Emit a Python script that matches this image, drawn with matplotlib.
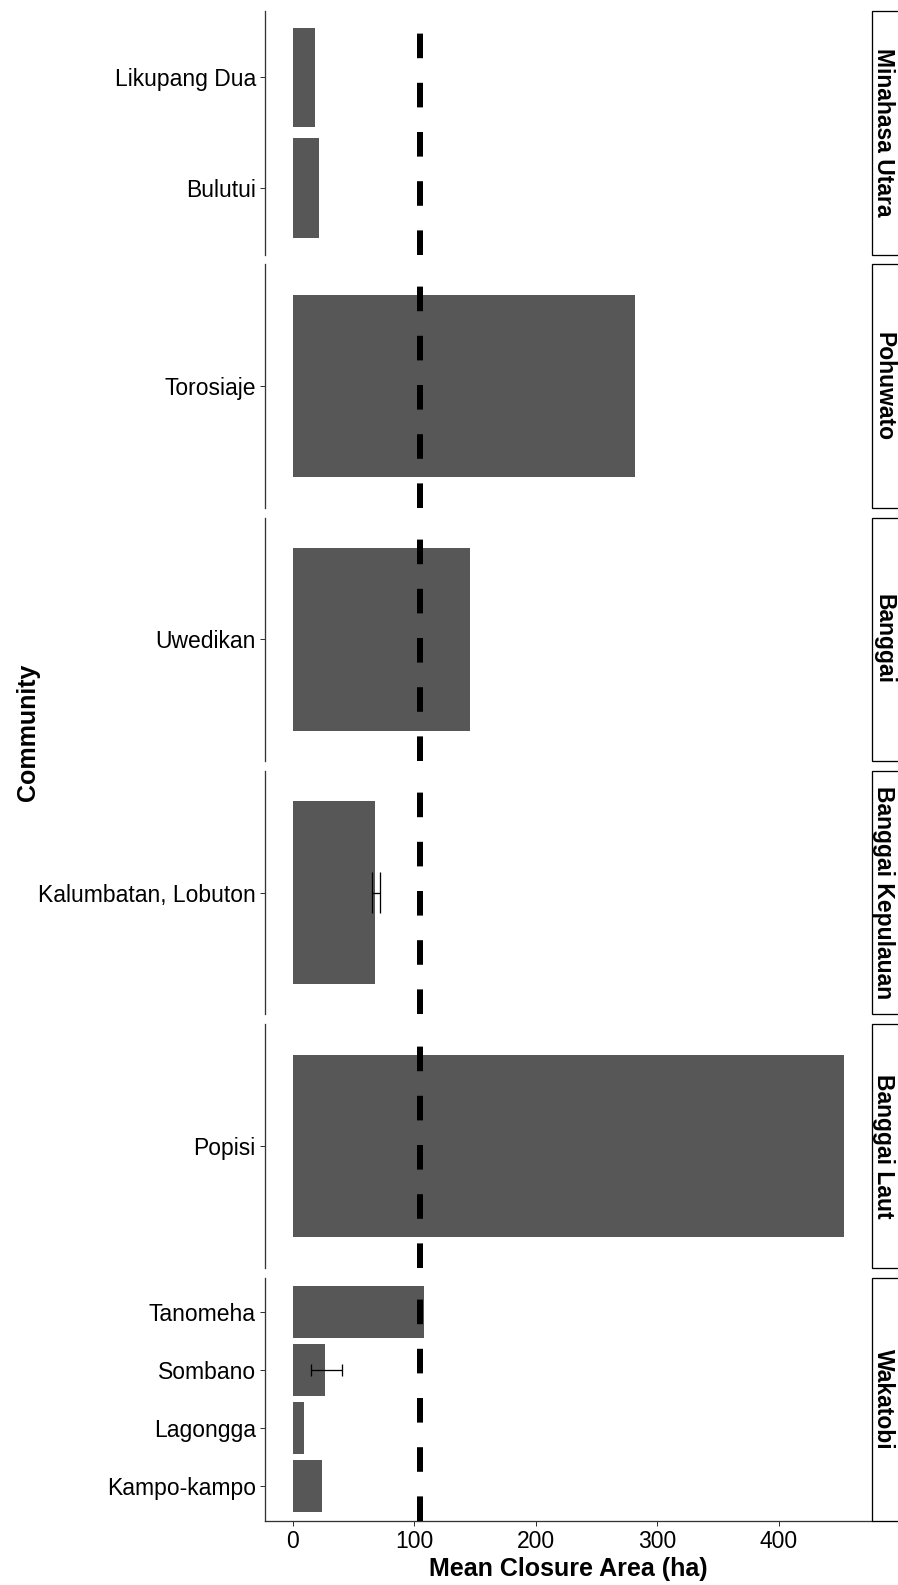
import matplotlib
matplotlib.use("Agg")
import matplotlib.pyplot as plt
from matplotlib.patches import Rectangle

plt.rcParams['font.family'] = ['Liberation Sans', 'DejaVu Sans']

# ---- data ----
regions = ["Minahasa Utara", "Pohuwato", "Banggai", "Banggai Kepulauan", "Banggai Laut", "Wakatobi"]
communities = [
    ["Likupang Dua", "Bulutui"],
    ["Torosiaje"],
    ["Uwedikan"],
    ["Kalumbatan, Lobuton"],
    ["Popisi"],
    ["Tanomeha", "Sombano", "Lagongga", "Kampo-kampo"],
]
mean_area = [
    [18.1, 21.4],
    [282.0],
    [146.0],
    [67.6],
    [453.6],
    [107.8, 26.4, 9.4, 24.5],
]
err_low = [
    [None, None],
    [None],
    [None],
    [65.5],
    [None],
    [None, 14.8, None, None],
]
err_high = [
    [None, None],
    [None],
    [None],
    [71.7],
    [None],
    [None, 40.4, None, None],
]
overall_mean = 105.0
x_ticks = [0, 100, 200, 300, 400]
x_label = "Mean Closure Area (ha)"
y_label = "Community"

# ---- layout (pixels) ----
W, H = 898, 1585
fig = plt.figure(figsize=(W / 100, H / 100), dpi=100)
left_px, right_px = 265.0, 871.7
top0, pitch, ph = 11.0, 253.3, 243.5
strip_w = 30.0

bar_color = "#575757"
spine_color = "#333333"
px = 0.72  # 1 px in points

for i, reg in enumerate(regions):
    top = top0 + i * pitch
    ax = fig.add_axes([left_px / W, 1 - (top + ph) / H, (right_px - left_px) / W, ph / H])
    names = communities[i]
    vals = mean_area[i]
    pos = list(range(len(names)))
    ax.barh(pos, vals, height=0.9, color=bar_color, zorder=2)
    for p, lo, hi in zip(pos, err_low[i], err_high[i]):
        if lo is not None:
            ax.hlines(p, lo, hi, color="black", lw=1.3 * px, zorder=3)
            ax.vlines([lo, hi], p - 0.1, p + 0.1, color="black", lw=1.3 * px, zorder=3)
    ax.axvline(overall_mean, color="black", lw=6 * px, dashes=(4.1, 4.1), zorder=4)
    ax.set_xlim(-22.7, 476.7)
    ax.set_ylim(len(names) - 1 + 0.6, -0.6)
    ax.set_yticks(pos)
    ax.set_yticklabels(names, fontsize=16.5, color="black")
    ax.tick_params(axis="y", length=5 * px, width=1.0 * px, color=spine_color, pad=3)
    for s in ["top", "right"]:
        ax.spines[s].set_visible(False)
    ax.spines["left"].set_color(spine_color)
    ax.spines["left"].set_linewidth(1.3 * px)
    if i == len(regions) - 1:
        ax.set_xticks(x_ticks)
        ax.set_xticklabels([str(t) for t in x_ticks], fontsize=16.5, color="black")
        ax.tick_params(axis="x", length=5 * px, width=1.0 * px, color=spine_color, pad=3)
        ax.spines["bottom"].set_color(spine_color)
        ax.spines["bottom"].set_linewidth(1.3 * px)
    else:
        ax.spines["bottom"].set_visible(False)
        ax.set_xticks([])
    # strip
    fig.patches.append(Rectangle((right_px / W, 1 - (top + ph) / H), strip_w / W, ph / H,
                                 transform=fig.transFigure, facecolor="white",
                                 edgecolor="black", lw=1.3 * px, zorder=5))
    fig.text((right_px + 12) / W, 1 - (top + ph / 2) / H, reg, rotation=-90,
             ha="center", va="center", fontsize=16.5, fontweight="bold", zorder=6)

fig.text(((left_px + right_px) / 2) / W, 1 - 1569 / H, x_label, ha="center", va="center",
         fontsize=18, fontweight="bold")
fig.text(28 / W, 1 - 732 / H, y_label, rotation=90, ha="center", va="center",
         fontsize=18, fontweight="bold")

fig.savefig("out.png", dpi=100, facecolor="white")
